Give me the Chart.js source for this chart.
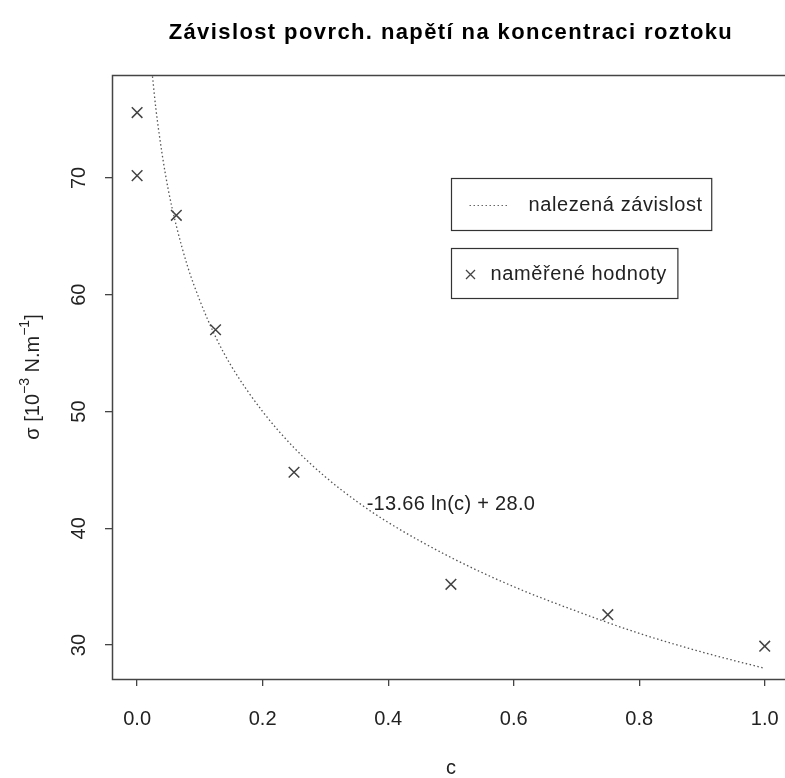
<!DOCTYPE html>
<html>
<head>
<meta charset="utf-8">
<script src="https://cdn.jsdelivr.net/npm/chart.js@4.4.1/dist/chart.umd.min.js"></script>
<style>
  html, body { margin: 0; padding: 0; background: #fff; overflow: hidden; }
  #wrap { width: 800px; height: 778px; }
</style>
</head>
<body>
<div id="wrap"><canvas id="myChart" width="800" height="778"></canvas></div>
<script>
// measured values
const cValues = [0, 0, 0.0625, 0.125, 0.25, 0.5, 0.75, 1.0];
const sigmaValues = [75.6, 70.2, 66.8, 57.0, 44.8, 35.2, 32.6, 29.9];

// fitted curve
const fitC = [0.0245, 0.03, 0.04, 0.05, 0.0625, 0.08, 0.1, 0.125, 0.15, 0.2, 0.25, 0.3, 0.35, 0.4, 0.5, 0.6, 0.7, 0.8, 0.9, 1.0];
const fitSigma = [78.7, 75.9, 72.0, 68.9, 65.9, 62.5, 59.5, 56.4, 53.9, 50.0, 46.9, 44.4, 42.3, 40.5, 37.5, 35.0, 32.9, 31.0, 29.4, 28.0];

const xTicks = [0, 0.2, 0.4, 0.6, 0.8, 1.0];
const yTicks = [30, 40, 50, 60, 70];

const titleText = 'Závislost povrch. napětí na koncentraci roztoku';
const fitLabel = 'nalezená závislost';
const pointLabel = 'naměřené hodnoty';
const formulaText = '-13.66 ln(c) + 28.0';

const FONT = '"Liberation Sans", Arial, sans-serif';

function crossMark(ctx, x, y, r) {
    ctx.beginPath();
    ctx.moveTo(x - r, y - r); ctx.lineTo(x + r, y + r);
    ctx.moveTo(x - r, y + r); ctx.lineTo(x + r, y - r);
    ctx.stroke();
}

const rDecor = {
    id: 'rDecor',
    afterDraw(chart) {
        const ctx = chart.ctx;
        const a = chart.chartArea;
        const x = chart.scales.x, y = chart.scales.y;
        ctx.save();

        // plot frame
        ctx.strokeStyle = '#444';
        ctx.lineWidth = 1.5;
        ctx.strokeRect(a.left + 0.5, a.top + 0.5, a.right - a.left, a.bottom - a.top);

        ctx.fillStyle = '#000';
        ctx.textBaseline = 'middle';

        // title
        ctx.font = 'bold 22px ' + FONT;
        ctx.letterSpacing = '1.4px';
        ctx.textAlign = 'center';
        ctx.fillText(titleText, (a.left + a.right) / 2, 33);

        // x axis title
        ctx.font = '20px ' + FONT;
        ctx.letterSpacing = '0px';
        ctx.fillStyle = '#222';
        ctx.fillText('c', (a.left + a.right) / 2, 768);

        // y axis title with superscripts
        ctx.save();
        ctx.translate(33, (a.top + a.bottom) / 2);
        ctx.rotate(-Math.PI / 2);
        const parts = [['σ [10', 0], ['−3', 1], [' N.m', 0], ['−1', 1], [']', 0]];
        let total = 0;
        parts.forEach(p => {
            ctx.font = (p[1] ? '14px ' : '20px ') + FONT;
            total += ctx.measureText(p[0]).width;
        });
        let px = -total / 2;
        ctx.textAlign = 'left';
        parts.forEach(p => {
            ctx.font = (p[1] ? '14px ' : '20px ') + FONT;
            ctx.fillText(p[0], px, p[1] ? -8 : 0);
            px += ctx.measureText(p[0]).width;
        });
        ctx.restore();

        // formula annotation
        ctx.font = '20px ' + FONT;
        ctx.letterSpacing = '0.3px';
        ctx.textAlign = 'center';
        ctx.fillText(formulaText, x.getPixelForValue(0.5), y.getPixelForValue(42));

        // legend 1: fitted curve
        ctx.letterSpacing = '0.6px';
        ctx.textAlign = 'left';
        let lx = Math.round(x.getPixelForValue(0.5)) + 0.5;
        let ly = Math.round(y.getPixelForValue(70)) + 0.5;
        let tw = ctx.measureText(fitLabel).width;
        ctx.strokeStyle = '#333';
        ctx.lineWidth = 1.2;
        ctx.strokeRect(lx, ly, 77 + tw + 9, 52);
        ctx.strokeStyle = '#666';
        ctx.lineWidth = 1;
        ctx.setLineDash([1.5, 2.5]);
        ctx.beginPath();
        ctx.moveTo(lx + 18, ly + 27);
        ctx.lineTo(lx + 57, ly + 27);
        ctx.stroke();
        ctx.setLineDash([]);
        ctx.fillText(fitLabel, lx + 77, ly + 27);

        // legend 2: measured points
        ly = Math.round(y.getPixelForValue(64)) + 0.5;
        tw = ctx.measureText(pointLabel).width;
        ctx.strokeStyle = '#333';
        ctx.lineWidth = 1.2;
        ctx.strokeRect(lx, ly, 39 + tw + 11, 50);
        ctx.strokeStyle = '#444';
        ctx.lineWidth = 1.3;
        crossMark(ctx, lx + 19, ly + 26, 4.5);
        ctx.fillText(pointLabel, lx + 39, ly + 26);

        ctx.restore();
    }
};

new Chart(document.getElementById('myChart'), {
    type: 'scatter',
    data: {
        datasets: [{
            label: fitLabel,
            data: fitC.map((c, i) => ({x: c, y: fitSigma[i]})),
            showLine: true,
            borderColor: '#555',
            borderWidth: 1.3,
            borderDash: [1.5, 2.5],
            cubicInterpolationMode: 'monotone',
            pointRadius: 0,
            order: 2
        }, {
            label: pointLabel,
            data: cValues.map((c, i) => ({x: c, y: sigmaValues[i]})),
            pointStyle: 'crossRot',
            pointRadius: 7.5,
            pointBorderColor: '#444',
            pointBorderWidth: 1.5,
            order: 1
        }]
    },
    options: {
        responsive: false,
        animation: false,
        events: [],
        layout: {
            padding: {left: 0, top: 75, right: 10, bottom: 0}
        },
        plugins: {
            legend: {display: false},
            title: {display: false},
            tooltip: {enabled: false}
        },
        scales: {
            x: {
                type: 'linear',
                min: -0.04,
                max: 1.04,
                afterFit: s => { s.height = 99; },
                afterBuildTicks: s => { s.ticks = xTicks.map(v => ({value: v})); },
                border: {display: false},
                grid: {
                    drawOnChartArea: false,
                    tickLength: 7,
                    color: '#444',
                    lineWidth: 1.3
                },
                ticks: {
                    padding: 21,
                    color: '#222',
                    font: {family: FONT, size: 20},
                    callback: v => v.toFixed(1)
                }
            },
            y: {
                type: 'linear',
                min: 27.09,
                max: 78.82,
                afterFit: s => { s.width = 112; },
                afterBuildTicks: s => { s.ticks = yTicks.map(v => ({value: v})); },
                border: {display: false},
                grid: {
                    drawOnChartArea: false,
                    tickLength: 7,
                    color: '#444',
                    lineWidth: 1.3
                },
                ticks: {
                    minRotation: 90,
                    maxRotation: 90,
                    crossAlign: 'center',
                    padding: 14,
                    color: '#222',
                    font: {family: FONT, size: 20},
                    callback: v => String(v)
                }
            }
        }
    },
    plugins: [rDecor]
});
</script>
</body>
</html>
